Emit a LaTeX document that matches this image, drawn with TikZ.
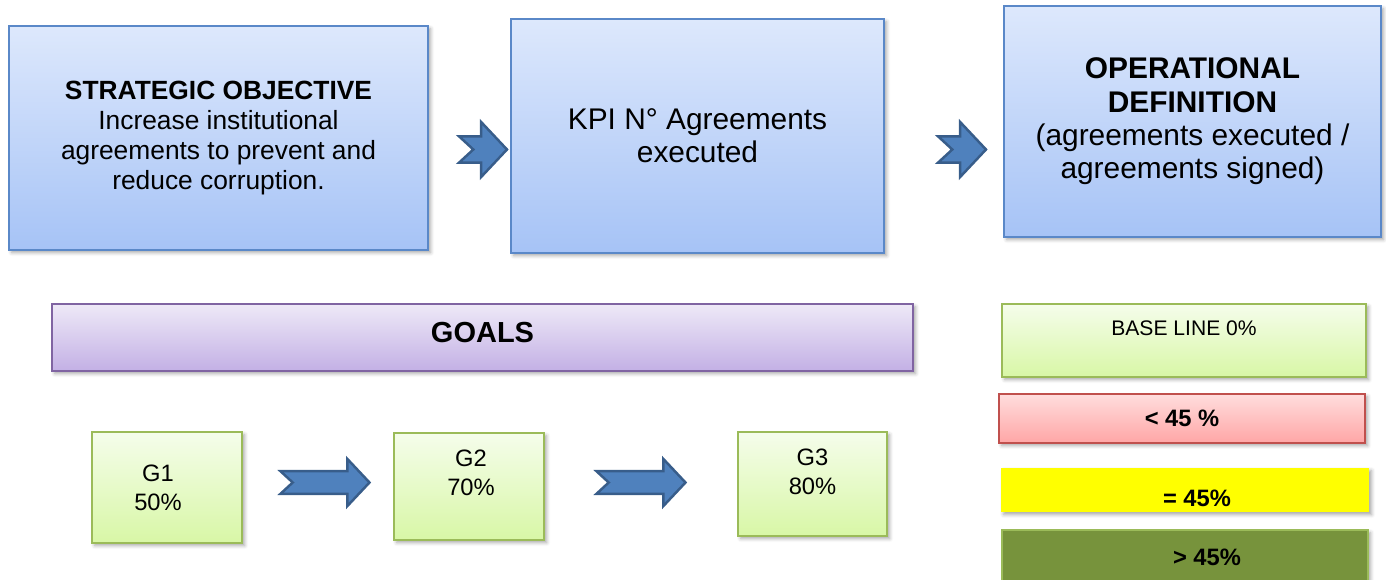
\documentclass[tikz,border=0pt]{standalone}
\usepackage{fontspec}
\setmainfont{Liberation Sans}
\usetikzlibrary{calc,shadows,shadows.blur}
\definecolor{bluetop}{HTML}{DDE8FC}
\definecolor{bluebot}{HTML}{A6C3F6}
\definecolor{blueedge}{HTML}{5A88C8}
\definecolor{greentop}{HTML}{F5FDEB}
\definecolor{greenbot}{HTML}{D8F7A6}
\definecolor{greenedge}{HTML}{9BBB59}
\definecolor{redtop}{HTML}{FFDDDD}
\definecolor{redbot}{HTML}{FFA6A6}
\definecolor{rededge}{HTML}{C0504D}
\definecolor{violettop}{HTML}{EEE9F7}
\definecolor{violetbot}{HTML}{C3B0E5}
\definecolor{violetedge}{HTML}{8064A2}
\definecolor{olive}{HTML}{77933C}
\definecolor{signalyellow}{HTML}{FFFF00}
\definecolor{arrowblue}{HTML}{4F81BD}
\definecolor{arrowedge}{HTML}{385D8A}
\begin{document}
\begin{tikzpicture}[x=0.02cm,y=0.02cm,
  every node/.style={align=center,inner sep=0pt,text=black},
  card/.style={draw,line width=1pt,blur shadow={shadow xshift=1.5pt,shadow yshift=-1.5pt,shadow blur radius=2pt,shadow opacity=35}},
  bluecard/.style={card,draw=blueedge,top color=bluetop,bottom color=bluebot},
  greencard/.style={card,draw=greenedge,top color=greentop,bottom color=greenbot},
  big/.style={font=\fontsize{17}{19}\selectfont},
  mid/.style={font=\fontsize{13.5}{16.5}\selectfont},
  chevfill/.style={fill=arrowblue,draw=arrowedge,line width=1.4pt,line join=miter},
  % notched block arrow: length, height
  pics/chev/.style 2 args={code={
    \draw[chevfill] (-#1/2,0.24*#2) -- (#1/2-0.47*#2,0.24*#2) -- (#1/2-0.47*#2,#2/2)
      -- (#1/2,0) -- (#1/2-0.47*#2,-#2/2) -- (#1/2-0.47*#2,-0.24*#2)
      -- (-#1/2,-0.24*#2) -- (-#1/2+0.26*#2,0) -- cycle;
  }}]
\useasboundingbox (0,0) rectangle (1386,579);
% Top row: objective -> KPI -> definition
\node[bluecard,minimum width=8.38cm,minimum height=4.48cm,font=\fontsize{15}{17}\selectfont] (obj) at (218.5,441)
  {\textbf{STRATEGIC OBJECTIVE}\\Increase institutional\\agreements to prevent and\\reduce corruption.};
\node[bluecard,big,minimum width=7.46cm,minimum height=4.68cm] (kpi) at (697.5,443) {KPI N° Agreements\\executed};
\node[bluecard,big,minimum width=7.54cm,minimum height=4.62cm] (def) at (1192.5,457.5)
  {\textbf{OPERATIONAL}\\\textbf{DEFINITION}\\(agreements executed /\\agreements signed)};
\pic at (483,429.5) {chev={48}{55}};
\pic at (962,429.5) {chev={48}{55}};
% Goals bar and goal boxes
\node[card,draw=violetedge,top color=violettop,bottom color=violetbot,minimum width=17.22cm,minimum height=1.34cm,
  font=\fontsize{16.5}{19}\selectfont\bfseries,text depth=0.22cm] (goals) at (482.5,241.5) {GOALS};
\node[greencard,mid,minimum width=3.0cm,minimum height=2.22cm] (g1) at (167,91.5) {};
\node[mid] (g1txt) at ($(g1.center)+(-9,0)$) {G1\\50\%};
\node[greencard,minimum width=3.0cm,minimum height=2.14cm] (g2) at (469,92.5) {};
\node[mid] (g2txt) at ($(g2.center)+(2,13.5)$) {G2\\70\%};
\node[greencard,minimum width=2.98cm,minimum height=2.08cm] (g3) at (812.5,95) {};
\node[mid] (g3txt) at ($(g3.center)+(0,12)$) {G3\\80\%};
\pic at (325,96.5) {chev={89}{47}};
\pic at (641,96.5) {chev={89}{47}};
% Traffic-light scale
\node[greencard,minimum width=7.28cm,minimum height=1.46cm] (base) at (1184,238.5) {};
\node[font=\fontsize{12}{14}\selectfont] (basetxt) at ($(base.center)+(0,12.5)$) {BASE LINE 0\%};
\node[card,draw=rededge,top color=redtop,bottom color=redbot,minimum width=7.32cm,minimum height=0.98cm,
  font=\fontsize{13.5}{16}\selectfont\bfseries] (low) at (1182,160.5) {< 45 \%};
\node[blur shadow={shadow xshift=1.5pt,shadow yshift=-1.5pt,shadow blur radius=2pt,shadow opacity=35},
  fill=signalyellow,minimum width=7.36cm,minimum height=0.88cm] (even) at (1185,89) {};
\begin{scope}
  \clip (even.south west) rectangle (even.north east);
  \node[font=\fontsize{13.5}{16}\selectfont\bfseries] (eventxt) at ($(even.center)+(12,-8)$) {= 45\%};
\end{scope}
\node[card,draw=greenedge,fill=olive,minimum width=7.32cm,minimum height=1.4cm] (high) at (1185,14) {};
\node[font=\fontsize{13.5}{16}\selectfont\bfseries] (hightxt) at ($(high.center)+(22,8)$) {> 45\%};
\end{tikzpicture}
\end{document}
